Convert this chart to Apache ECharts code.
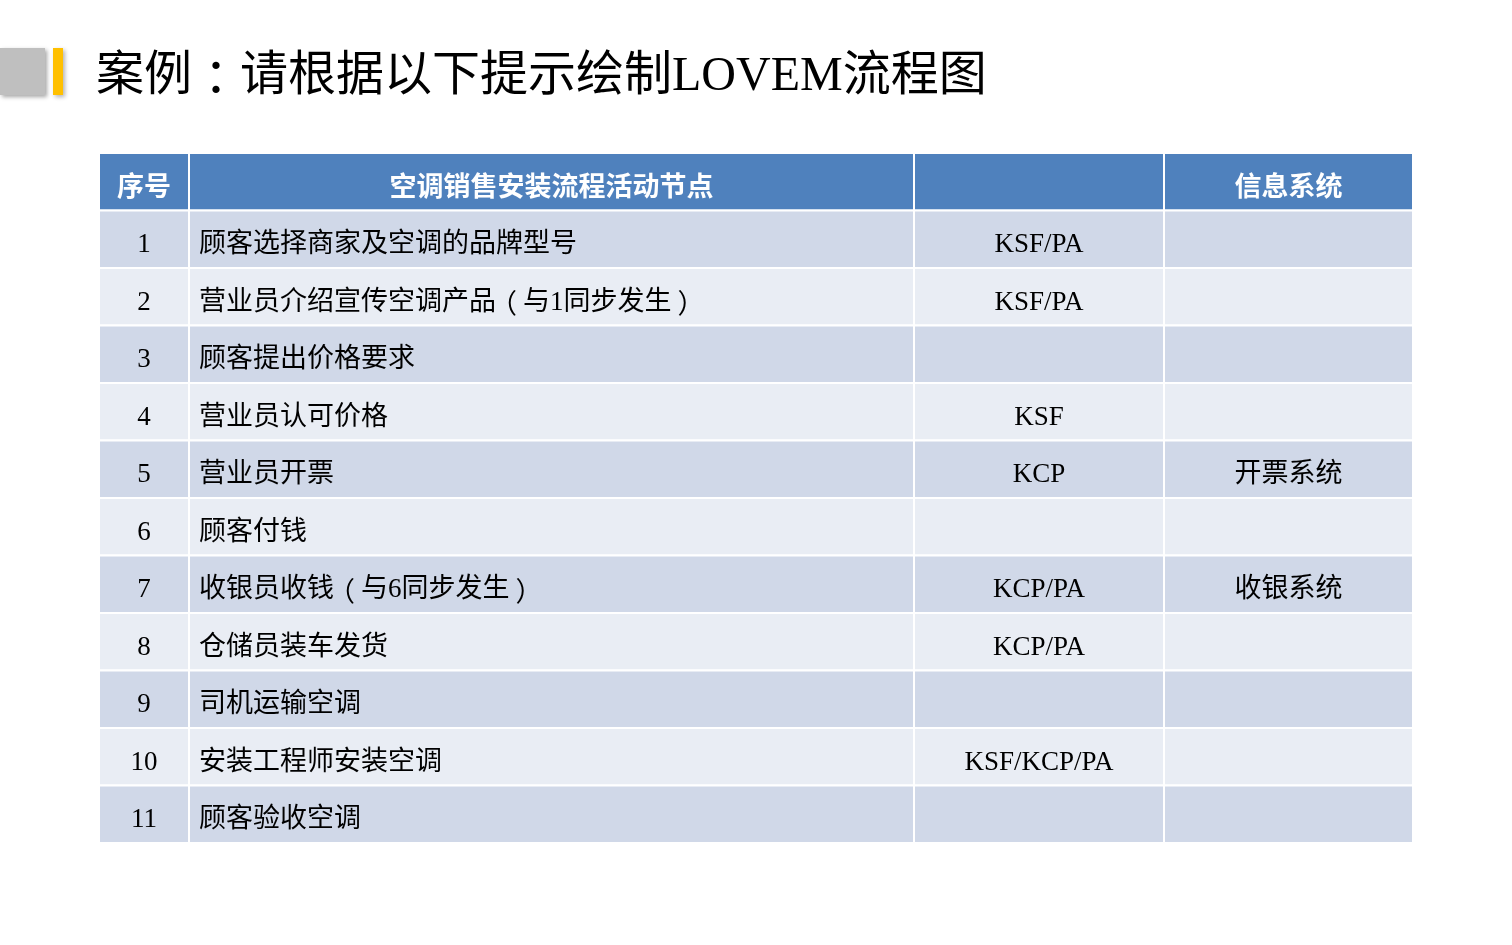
<!DOCTYPE html>
<html>
<head>
<meta charset="utf-8">
<script src="https://cdn.jsdelivr.net/npm/echarts@6/dist/echarts.min.js"></script>
<style>
html,body{margin:0;padding:0;background:#fff;}
#main{width:1512px;height:945px;}
</style>
</head>
<body>
<div id="main"></div>
<script>
// ---- data ----
const titleText = '案例：请根据以下提示绘制LOVEM流程图';
const headers = ['序号', '空调销售安装流程活动节点', '', '信息系统'];
const seqNumbers = ['1', '2', '3', '4', '5', '6', '7', '8', '9', '10', '11'];
const activities = [
  '顾客选择商家及空调的品牌型号',
  '营业员介绍宣传空调产品（与1同步发生）',
  '顾客提出价格要求',
  '营业员认可价格',
  '营业员开票',
  '顾客付钱',
  '收银员收钱（与6同步发生）',
  '仓储员装车发货',
  '司机运输空调',
  '安装工程师安装空调',
  '顾客验收空调'
];
const keyPoints = ['KSF/PA', 'KSF/PA', '', 'KSF', 'KCP', '', 'KCP/PA', 'KCP/PA', '', 'KSF/KCP/PA', ''];
const systems = ['', '', '', '', '开票系统', '', '收银系统', '', '', '', ''];

// ---- layout ----
const colEdges = [0, 90, 815, 1065, 1314];
const rowCount = seqNumbers.length + 1;

const cells = [];
for (let c = 0; c < 4; c++) cells.push([c, 0, headers[c]]);
for (let i = 0; i < seqNumbers.length; i++) {
  cells.push([0, i + 1, seqNumbers[i]]);
  cells.push([1, i + 1, activities[i]]);
  cells.push([2, i + 1, keyPoints[i]]);
  cells.push([3, i + 1, systems[i]]);
}

// split text so that full-width punctuation can be styled (centred in its em box)
const punctStyle = { '（': 'po', '）': 'pc', '：': 'pk' };
function toRich(str) {
  let out = '', buf = '';
  for (const ch of str) {
    if (punctStyle[ch]) {
      if (buf) { out += '{n|' + buf + '}'; buf = ''; }
      out += '{' + punctStyle[ch] + '|' + ch + '}';
    } else buf += ch;
  }
  if (buf) out += '{n|' + buf + '}';
  return out;
}

function richStyles(size, color, lh) {
  const f = size + 'px "Liberation Serif", "Noto Sans CJK SC", sans-serif';
  const sh = Math.round(size * 0.22);
  return {
    n: { font: f, fill: color, lineHeight: lh },
    po: { font: size + 'px "Noto Sans CJK SC", sans-serif', fill: color, lineHeight: lh, padding: [0, sh, 0, -sh] },
    pc: { font: size + 'px "Noto Sans CJK SC", sans-serif', fill: color, lineHeight: lh, padding: [0, -sh, 0, sh] },
    pk: { font: size + 'px "Noto Sans CJK TC", sans-serif', fill: color, lineHeight: lh }
  };
}

const bodyFont = '27px "Liberation Serif", "Noto Sans CJK SC", sans-serif';
const headFont = 'bold 27px "Noto Sans CJK SC", sans-serif';

function renderItem(params, api) {
  const c = api.value(0), r = api.value(1);
  const txt = cells[params.dataIndex][2];
  const p0 = api.coord([colEdges[c], r]);
  const p1 = api.coord([colEdges[c + 1], r + 1]);
  const x = p0[0], y = p0[1], w = p1[0] - p0[0], h = p1[1] - p0[1];
  const fill = r === 0 ? '#4F81BD' : (r % 2 === 1 ? '#D0D8E8' : '#E9EDF4');
  const left = c === 1 && r > 0;
  const color = r === 0 ? '#ffffff' : '#000000';
  return {
    type: 'group',
    children: [
      {
        type: 'rect',
        shape: { x: x, y: y, width: w, height: h },
        style: { fill: fill, stroke: '#ffffff', lineWidth: 2 }
      },
      {
        type: 'text',
        style: {
          text: r === 0 ? txt : toRich(txt),
          x: left ? x + 10 : x + w / 2,
          y: y + h / 2 + (r === 0 ? 4 : 6),
          align: left ? 'left' : 'center',
          verticalAlign: 'middle',
          font: r === 0 ? headFont : bodyFont,
          fill: color,
          rich: richStyles(27, color, 34)
        }
      }
    ]
  };
}

const chart = echarts.init(document.getElementById('main'), null, { renderer: 'canvas' });
chart.setOption({
  backgroundColor: '#ffffff',
  animation: false,
  grid: { left: 99, top: 153, width: 1314, height: 690 },
  xAxis: { type: 'value', min: 0, max: colEdges[colEdges.length - 1], show: false },
  yAxis: { type: 'value', min: 0, max: rowCount, inverse: true, show: false },
  graphic: [
    {
      type: 'rect', shape: { x: 0, y: 48, width: 45, height: 47 },
      style: { fill: '#BFBFBF', shadowBlur: 4, shadowOffsetX: 2, shadowOffsetY: 2, shadowColor: 'rgba(0,0,0,0.35)' }
    },
    {
      type: 'rect', shape: { x: 53, y: 48, width: 10, height: 47 },
      style: { fill: '#FFC000', shadowBlur: 4, shadowOffsetX: 2, shadowOffsetY: 2, shadowColor: 'rgba(0,0,0,0.3)' }
    },
    {
      type: 'text',
      style: {
        text: toRich(titleText), x: 96, y: 77, verticalAlign: 'middle',
        font: '48px "Liberation Serif", "Noto Sans CJK SC", sans-serif', fill: '#000000',
        rich: richStyles(48, '#000000', 60)
      }
    }
  ],
  series: [{
    type: 'custom',
    renderItem: renderItem,
    data: cells.map(d => [d[0], d[1]]),
    silent: true
  }]
});
</script>
</body>
</html>
